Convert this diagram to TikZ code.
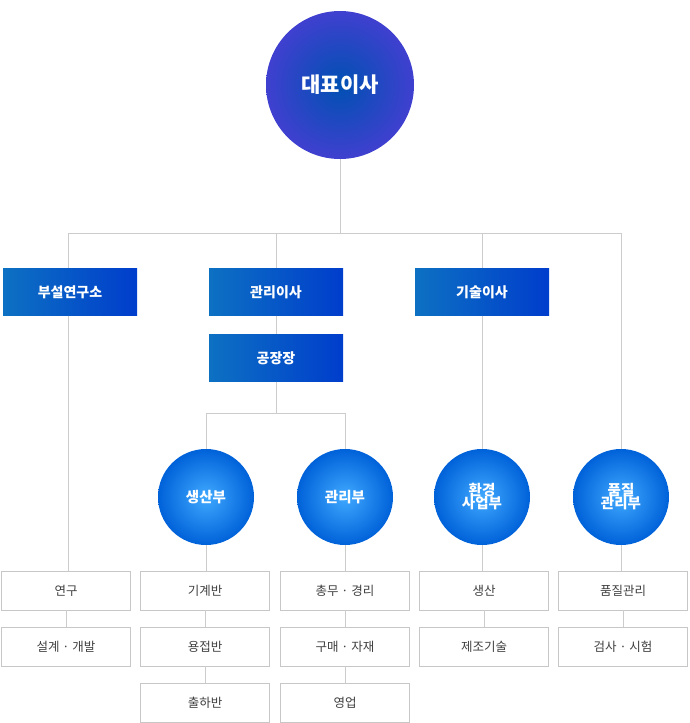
\documentclass[tikz,border=0pt]{standalone}
\usepackage{fontspec}
\setmainfont{Noto Sans CJK KR}
\begin{document}
\begin{tikzpicture}[x=1pt,y=-1pt,
  ln/.style={draw=black!20,line width=0.8pt},
  bluebox/.style={draw=none,minimum width=134pt,minimum height=47pt,left color=blue!45!cyan!75!black!95,right color=blue!70!cyan!80!black,text=white,font=\fontsize{14}{16}\selectfont\bfseries,inner sep=0pt},
  sc/.style={circle,minimum size=96pt,inner sep=0pt,shading=radial,inner color=cyan!55!blue!75,outer color=blue!55!cyan!85!black,text=white,font=\fontsize{14.5}{17}\selectfont\bfseries,align=center},
  wb/.style={draw=black!22,fill=white,minimum width=129pt,minimum height=39pt,inner sep=0pt,text=black!75,font=\fontsize{12.5}{15}\selectfont}]
\useasboundingbox (0,0) rectangle (689,723);
\node[circle,minimum size=148pt,inner sep=0pt,shading=radial,inner color=blue!55!cyan!70!black,outer color=blue!75!black!75,text=white,font=\fontsize{21}{24}\selectfont\bfseries] (ceo) at (340,85) {대표이사};
\coordinate (j) at (340,233);
\node[bluebox] (rnd) at (70,292) {부설연구소};
\node[bluebox] (mgr) at (276,292) {관리이사};
\node[bluebox] (tec) at (482,292) {기술이사};
\node[bluebox] (fac) at (276,358) {공장장};
\coordinate (f) at (276,413);
\node[sc] (c1) at (206,497) {생산부};
\node[sc] (c2) at (345,497) {관리부};
\node[sc] (c3) at (482,497) {환경\\[-4pt]사업부};
\node[sc] (c4) at (621,497) {품질\\[-4pt]관리부};
\node[wb] (a1) at (66,590.5) {연구};
\node[wb] (a2) at (66,646.5) {설계 · 개발};
\node[wb] (b1) at (205,590.5) {기계반};
\node[wb] (b2) at (205,646.5) {용접반};
\node[wb] (b3) at (205,702.5) {출하반};
\node[wb] (d1) at (345,590.5) {총무 · 경리};
\node[wb] (d2) at (345,646.5) {구매 · 자재};
\node[wb] (d3) at (345,702.5) {영업};
\node[wb] (e1) at (484,590.5) {생산};
\node[wb] (e2) at (484,646.5) {제조기술};
\node[wb] (g1) at (623,590.5) {품질관리};
\node[wb] (g2) at (623,646.5) {검사 · 시험};
\begin{scope}[on background layer/.style={}]
\end{scope}
\path[ln] (ceo) -- (j) (68,233) -- (621,233)
 (68,233) -- (rnd.north -| 68,0) (rnd.south -| 68,0) -- (a1.north -| 68,0)
 (276,233) -- (mgr.north) (mgr.south) -- (fac.north) (fac.south) -- (f)
 (206,413) -- (345,413) (206,413) -- (c1.north) (345,413) -- (c2.north)
 (482,233) -- (tec.north) (tec.south) -- (c3.north)
 (621,233) -- (c4.north)
 (c1.south) -- (b1.north -| c1) (b1.south) -- (b2.north) (b2.south) -- (b3.north)
 (c2.south) -- (d1.north) (d1.south) -- (d2.north) (d2.south) -- (d3.north)
 (c3.south) -- (c3 |- e1.north) (e1.south) -- (e2.north)
 (c4.south) -- (c4 |- g1.north) (g1.south) -- (g2.north)
 (a1.south) -- (a2.north);
\end{tikzpicture}
\end{document}
